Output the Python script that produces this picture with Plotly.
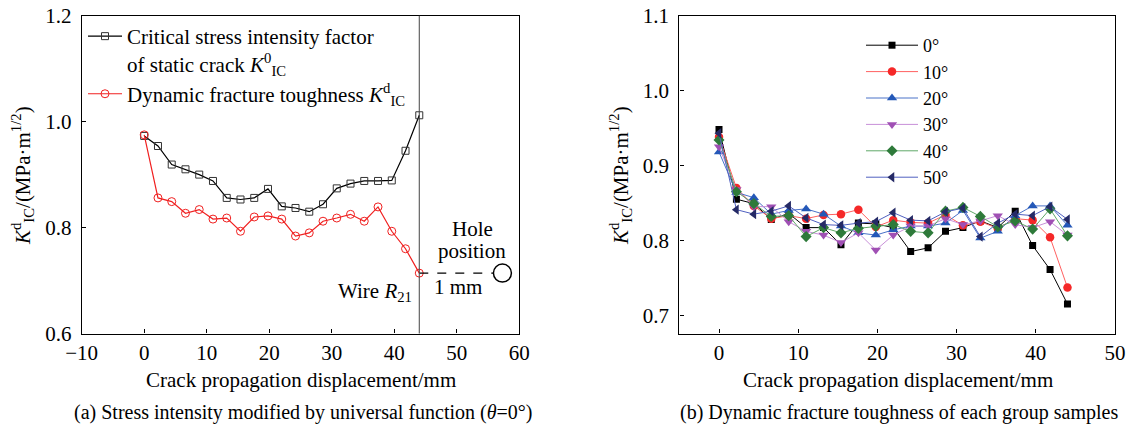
import plotly.graph_objects as go

# ---------------- data ----------------
x_pos = [0, 2.2, 4.4, 6.6, 8.8, 11, 13.2, 15.4, 17.6, 19.8, 22, 24.2, 26.4,
         28.6, 30.8, 33, 35.2, 37.4, 39.6, 41.8, 44]

# panel (a)
k_static = [0.973, 0.954, 0.919, 0.910, 0.900, 0.888, 0.856, 0.853, 0.856, 0.873,
            0.840, 0.837, 0.830, 0.844, 0.874, 0.883, 0.888, 0.888, 0.889, 0.945, 1.012]
k_dynamic = [0.975, 0.856, 0.849, 0.827, 0.834, 0.816, 0.818, 0.793, 0.820, 0.822,
             0.816, 0.784, 0.790, 0.812, 0.818, 0.825, 0.812, 0.839, 0.793, 0.760, 0.714]
wire_x = 44
hole_line_x = [44, 55.9]
hole_line_y = [0.714, 0.714]
hole_x = [57.3]
hole_y = [0.714]

# panel (b)
angle_names = ["0°", "10°", "20°", "30°", "40°", "50°"]
k_0 = [0.948, 0.855, 0.849, 0.828, 0.836, 0.817, 0.817, 0.794, 0.823, 0.822, 0.817,
       0.785, 0.790, 0.812, 0.817, 0.826, 0.817, 0.839, 0.793, 0.761, 0.715]
k_10 = [0.938, 0.870, 0.846, 0.829, 0.833, 0.829, 0.834, 0.835, 0.841, 0.818, 0.827,
        0.824, 0.823, 0.834, 0.820, 0.825, 0.816, 0.829, 0.827, 0.804, 0.737]
k_20 = [0.918, 0.864, 0.857, 0.835, 0.840, 0.842, 0.835, 0.819, 0.810, 0.807, 0.814,
        0.819, 0.819, 0.823, 0.840, 0.803, 0.812, 0.833, 0.846, 0.846, 0.820]
k_30 = [0.925, 0.868, 0.845, 0.845, 0.825, 0.812, 0.807, 0.797, 0.810, 0.787, 0.807,
        0.819, 0.819, 0.829, 0.821, 0.826, 0.833, 0.821, 0.817, 0.825, 0.807]
k_40 = [0.934, 0.865, 0.849, 0.832, 0.833, 0.805, 0.817, 0.810, 0.816, 0.819, 0.821,
        0.812, 0.810, 0.839, 0.844, 0.832, 0.818, 0.826, 0.815, 0.842, 0.806]
k_50 = [0.943, 0.841, 0.835, 0.839, 0.846, 0.830, 0.821, 0.820, 0.823, 0.825, 0.837,
        0.827, 0.826, 0.838, 0.843, 0.805, 0.823, 0.835, 0.833, 0.845, 0.828]

# ---------------- layout helpers (page body has an 8px margin) ----------------
OFF = 8
W, H = 1134 - OFF, 426 - OFF


def px(p):
    return (p - OFF) / W


def py(p):
    return 1 - (p - OFF) / H


FONT = "Liberation Serif, Times New Roman, serif"
series_b = [
    (k_0, "#000000", "#000000", "square", 7),
    (k_10, "#FF6060", "#F52828", "circle", 8.5),
    (k_20, "#4A72C8", "#2458B8", "triangle-up", 9),
    (k_30, "#C890D8", "#A050B4", "triangle-down", 9),
    (k_40, "#60A868", "#2E7A3A", "diamond", 8.5),
    (k_50, "#5060C0", "#252A66", "triangle-left", 9),
]

fig = go.Figure()

# panel (a)
fig.add_trace(go.Scatter(
    x=x_pos, y=k_static, mode="lines+markers", xaxis="x", yaxis="y",
    name="Critical stress intensity factor<br>of static crack <i>K</i><sup>0</sup><sub>IC</sub>",
    line=dict(color="black", width=1.2),
    marker=dict(symbol="square-open", size=7, color="#333333", line=dict(width=1)),
    legend="legend"))
fig.add_trace(go.Scatter(
    x=x_pos, y=k_dynamic, mode="lines+markers", xaxis="x", yaxis="y",
    name="Dynamic fracture toughness <i>K</i><sup>d</sup><sub>IC</sub>",
    line=dict(color="#F02020", width=1.2),
    marker=dict(symbol="circle-open", size=8, color="#F02020", line=dict(width=1)),
    legend="legend"))
fig.add_trace(go.Scatter(
    x=hole_line_x, y=hole_line_y, mode="lines", xaxis="x", yaxis="y",
    line=dict(color="black", width=1.2, dash="dash"), showlegend=False))
fig.add_trace(go.Scatter(
    x=hole_x, y=hole_y, mode="markers", xaxis="x", yaxis="y",
    marker=dict(symbol="circle-open", size=18, color="black", line=dict(width=1.5)),
    showlegend=False))

# panel (b)
for name, (vals, lc, mc, sym, sz) in zip(angle_names, series_b):
    fig.add_trace(go.Scatter(
        x=x_pos, y=vals, mode="lines+markers", xaxis="x2", yaxis="y2", name=name,
        line=dict(color=lc, width=1),
        marker=dict(symbol=sym, size=sz, color=mc, line=dict(width=0)),
        legend="legend2"))

ydom = [py(333.5), py(15.7)]
axis_common = dict(
    showline=True, linecolor="black", linewidth=1.2, mirror=True,
    ticks="inside", ticklen=4, tickwidth=1, tickcolor="black",
    showgrid=False, zeroline=False, automargin=False,
    ticklabeloverflow="allow",
    tickfont=dict(family=FONT, size=21, color="black"),
)

fig.update_layout(
    template="none",
    width=W, height=H, autosize=False,
    margin=dict(l=0, r=0, t=0, b=0, pad=0, autoexpand=False),
    paper_bgcolor="white", plot_bgcolor="white",
    font=dict(family=FONT, size=21, color="black"),
    xaxis=dict(domain=[px(81.7), px(519.3)], range=[-10, 60], dtick=10,
               anchor="y", ticklabelstandoff=0, **axis_common),
    yaxis=dict(domain=ydom, range=[0.6, 1.2], dtick=0.2, tickformat=".1f",
               anchor="x", ticklabelstandoff=5, **axis_common),
    xaxis2=dict(domain=[px(679.4), px(1115)], range=[-5, 50], dtick=10,
                anchor="y2", ticklabelstandoff=0, **axis_common),
    yaxis2=dict(domain=ydom, range=[0.6756, 1.1], tickvals=[0.7, 0.8, 0.9, 1.0, 1.1],
                tickformat=".1f", anchor="x2", ticklabelstandoff=5, **axis_common),
    legend=dict(x=px(83), y=py(16), xanchor="left", yanchor="top",
                bgcolor="rgba(0,0,0,0)", borderwidth=0, itemwidth=34,
                valign="top", font=dict(family=FONT, size=21, color="black"),
                tracegroupgap=0),
    legend2=dict(x=px(861), y=py(27), xanchor="left", yanchor="top",
                 bgcolor="rgba(0,0,0,0)", borderwidth=0, itemwidth=52,
                 font=dict(family=FONT, size=18, color="black")),
    shapes=[dict(type="line", xref="x", yref="y domain", x0=wire_x, x1=wire_x,
                 y0=0, y1=1, line=dict(color="#444444", width=1))],
)

ytitle = "<i>K</i><sup>d</sup><sub>IC</sub>/(MPa·m<sup>1/2</sup>)"
xtitle = "Crack propagation displacement/mm"
ann = [
    dict(text=ytitle, x=px(22), y=py(176), textangle=-90),
    dict(text=ytitle, x=px(620), y=py(176), textangle=-90),
    dict(text=xtitle, x=px(300.5), y=py(380)),
    dict(text=xtitle, x=px(898), y=py(380)),
    dict(text="(a) Stress intensity modified by universal function (<i>θ</i>=0°)",
         x=px(303), y=py(412), font=dict(family=FONT, size=20, color="black")),
    dict(text="(b) Dynamic fracture toughness of each group samples",
         x=px(899), y=py(412), font=dict(family=FONT, size=20, color="black")),
]
for a in ann:
    a.update(xref="paper", yref="paper", showarrow=False, xanchor="center", yanchor="middle")
    a.setdefault("font", dict(family=FONT, size=21, color="black"))

data_ann = [
    dict(text="Hole", x=52.5, y=0.797),
    dict(text="position", x=52.5, y=0.756),
    dict(text="1 mm", x=50.2, y=0.688),
    dict(text="Wire <i>R</i><sub>21</sub>", x=43.2, y=0.679, xanchor="right"),
]
for a in data_ann:
    a.update(xref="x", yref="y", showarrow=False, yanchor="middle",
             font=dict(family=FONT, size=21, color="black"))
    a.setdefault("xanchor", "center")

fig.update_layout(annotations=ann + data_ann)
fig.write_html("out.html")
